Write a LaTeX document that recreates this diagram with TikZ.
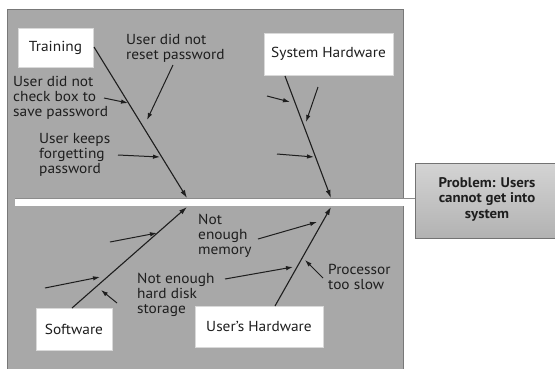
\documentclass[tikz,border=0pt]{standalone}
\usepackage{fontspec}
\setmainfont{PT Sans}[FakeStretch=1.06]
\usetikzlibrary{arrows.meta}
\definecolor{panel}{RGB}{168,168,168}
\definecolor{paneledge}{RGB}{120,120,120}
\definecolor{ink}{RGB}{30,30,30}
\definecolor{probtop}{RGB}{212,212,212}
\definecolor{probbot}{RGB}{178,178,178}
\tikzset{
  catbox/.style={fill=white, draw=black!15, inner sep=0pt, text=ink,
    font=\fontsize{14.5}{15.5}\selectfont},
  lbl/.style={inner sep=0pt, align=left, text=ink,
    font=\fontsize{14.5}{15.3}\selectfont},
  bone/.style={draw=ink, line width=1.1pt, -{Latex[length=8pt,width=5pt]}},
  arr/.style={draw=ink, line width=1pt, -{Latex[length=7pt,width=4.5pt]}},
}
\begin{document}
\begin{tikzpicture}[x=1pt,y=-1pt]
\useasboundingbox (0,0) rectangle (555,368);
\fill[white] (0,0) rectangle (555,368);
% panel
\filldraw[fill=panel, draw=paneledge, line width=0.8pt] (7,9) rectangle (403,372);
% spine
\coordinate (spL) at (15,202);
\coordinate (spR) at (416,202);
\draw[black!45, line width=1pt] ([yshift=4pt]spL) -- ([yshift=4pt]spR);
\draw[white, line width=7pt] (spL) -- (spR);
% problem box
\node[draw=black!55, line width=0.8pt, top color=probtop, bottom color=probbot,
      minimum width=141pt, minimum height=75pt, inner sep=0pt] (prob) at (485.5,200.5) {};
\node[inner sep=0pt, align=center, text=ink, font=\fontsize{14}{15.5}\selectfont\bfseries] (probtxt) at (487,199)
  {Problem: Users\\cannot get into\\system};
% category boxes
\node[catbox, minimum width=75pt, minimum height=39pt] (train) at (55.5,47.5) {Training};
\node[catbox, minimum width=129pt, minimum height=42pt] (syshw) at (328.5,54) {System Hardware};
\node[catbox, minimum width=76pt, minimum height=42pt] (soft) at (74,329) {Software};
\node[catbox, minimum width=128pt, minimum height=41pt] (ushw) at (259,326.5) {User's Hardware};
% spine targets
\coordinate (tTrain) at (187,198);
\coordinate (tSys) at (331,198);
\coordinate (tSoft) at (187,207);
\coordinate (tUser) at (331,207);
\coordinate (sTrain) at (94,47);
\coordinate (sSys) at (285,76);
\coordinate (sSoft) at (72,308);
\coordinate (sUser) at (275,306);
\draw[bone] (sTrain) -- (tTrain);
\draw[bone] (sSys) -- (tSys);
\draw[bone] (sSoft) -- (tSoft);
\draw[bone] (sUser) -- (tUser);
% labels
\node[lbl, anchor=west] (lreset) at (126,48) {User did not\\reset password};
\node[lbl, anchor=west] (lcheck) at (13,98) {User did not\\check box to\\save password};
\node[lbl, anchor=west] (lkeep) at (39,155) {User keeps\\forgetting\\password};
\node[lbl, anchor=west] (lmem) at (198,236) {Not\\enough\\memory};
\node[lbl, anchor=west] (ldisk) at (137,295) {Not enough\\hard disk\\storage};
\node[lbl, anchor=west] (lproc) at (328,277) {Processor\\too slow};
% training sub-causes
\coordinate (aR1) at (173,65);  \coordinate (bR1) at (147,120);
\coordinate (aR2) at (104,98);  \coordinate (bR2) at (128,103);
\coordinate (aR3) at (118,155); \coordinate (bR3) at (160,157);
\draw[arr] (aR1) -- (bR1);
\draw[arr] (aR2) -- (bR2);
\draw[arr] (aR3) -- (bR3);
% system hardware sub-causes
\coordinate (aS1) at (267,96);  \coordinate (bS1) at (290,102);
\coordinate (aS2) at (318,87);  \coordinate (bS2) at (306,122);
\coordinate (aS3) at (277,154); \coordinate (bS3) at (314,157);
\draw[arr] (aS1) -- (bS1);
\draw[arr] (aS2) -- (bS2);
\draw[arr] (aS3) -- (bS3);
% software sub-causes
\coordinate (aW1) at (110,242); \coordinate (bW1) at (157,233);
\coordinate (aW2) at (45,288);  \coordinate (bW2) at (100,277);
\coordinate (aW3) at (117,303); \coordinate (bW3) at (101,290);
\draw[arr] (aW1) -- (bW1);
\draw[arr] (aW2) -- (bW2);
\draw[arr] (aW3) -- (bW3);
% user's hardware sub-causes
\coordinate (aU1) at (258,239); \coordinate (bU1) at (317,222);
\coordinate (aU2) at (225,279); \coordinate (bU2) at (293,267);
\coordinate (aU3) at (323,278); \coordinate (bU3) at (305,260);
\draw[arr] (aU1) -- (bU1);
\draw[arr] (aU2) -- (bU2);
\draw[arr] (aU3) -- (bU3);
\end{tikzpicture}
\end{document}
